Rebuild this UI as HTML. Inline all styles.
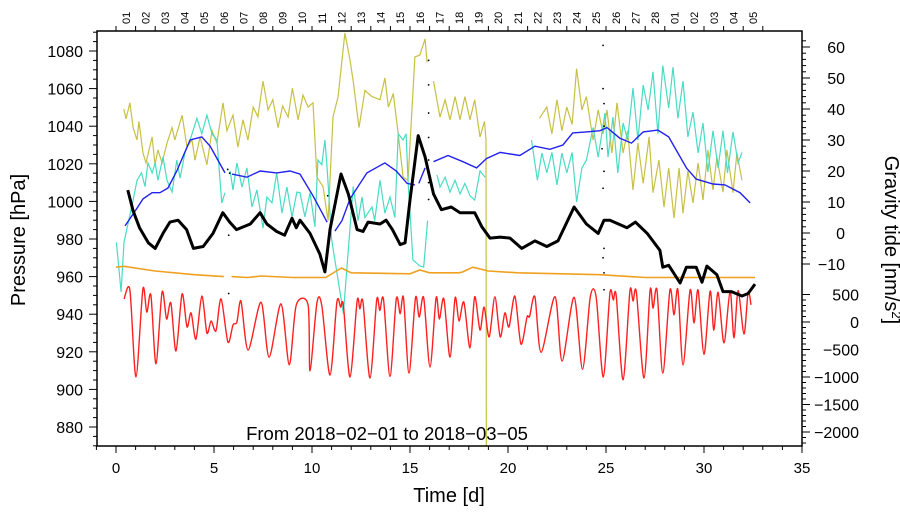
<!DOCTYPE html>
<html><head><meta charset="utf-8"><style>
html,body{margin:0;padding:0;background:#fff;}
svg{display:block;font-family:"Liberation Sans",sans-serif;}
</style></head><body>
<svg id="chart" width="900" height="519" viewBox="0 0 900 519" xmlns="http://www.w3.org/2000/svg">
<defs><clipPath id="plotclip"><rect x="97" y="31" width="705" height="415"/></clipPath></defs>
<g id="axes"></g>
<g id="series" clip-path="url(#plotclip)"></g>
<rect x="97" y="31" width="705" height="415" fill="none" stroke="#000" stroke-width="1.5"/>
<text x="25" y="240" font-size="20" text-anchor="middle" transform="rotate(-90 25 240)">Pressure [hPa]</text>
<text x="885" y="240" font-size="20" text-anchor="middle" transform="rotate(90 885 240)">Gravity tide [nm/s<tspan baseline-shift="super" font-size="13">2</tspan>]</text>
<text x="449" y="502" font-size="20" text-anchor="middle">Time [d]</text>
<text x="387" y="440" font-size="18.5" text-anchor="middle">From 2018−02−01 to 2018−03−05</text>
</svg>
<script>
const xTicks = [0,5,10,15,20,25,30,35];
const leftTicks = [880,900,920,940,960,980,1000,1020,1040,1060,1080];
const upperRightTicks = [-10,0,10,20,30,40,50,60];
const lowerRightTicks = [-2000,-1500,-1000,-500,0,500];
const dayLabels = ["01","02","03","04","05","06","07","08","09","10","11","12","13","14","15","16","17","18","19","20","21","22","23","24","25","26","27","28","01","02","03","04","05"];

const pressure = [[0.6,1006],[0.87,995],[1.2,986],[1.65,978],[2.0,975],[2.4,983],[2.75,989],[3.17,990],[3.6,985],[3.95,975],[4.45,976],[4.95,983],[5.45,994],[5.8,989],[6.15,985],[6.85,988],[7.35,994],[7.7,988],[8.2,984],[8.6,982],[8.98,991],[9.2,986],[9.39,990],[9.9,983],[10.4,972],[10.66,962.5],[10.92,985],[11.48,1014.6],[11.85,1004],[12.3,985],[12.6,984],[12.86,989],[13.47,988],[13.78,990],[14.1,985],[14.5,977],[14.75,978],[15.0,1000.7],[15.42,1035],[15.77,1023.6],[16.2,1004],[16.6,995.6],[17.1,997],[17.55,994],[18.3,994],[18.66,986.6],[19.08,980.5],[19.6,981],[20.1,980.5],[20.7,975],[21.37,979],[21.98,976],[22.55,979],[23.37,997],[24.0,988],[24.6,983],[24.9,990],[25.2,990],[26.07,986],[26.5,989],[27.1,983],[27.75,974],[27.9,965],[28.2,966],[28.78,956.6],[29.1,965],[29.6,965],[29.9,957],[30.15,965.6],[30.66,961],[30.97,952],[31.4,952],[31.94,949.7],[32.25,951],[32.6,956]];
const orange = [[0,965],[0.4,965.5],[2,963],[4,961],[5.5,960],null,[5.9,960],[6.7,959.5],[7.4,960.3],[9,959.5],[10.7,959.5],[11.5,964.6],[12,962],[15,961.5],[15.5,963.5],[16,962],[17.5,962],[17.7,962.5],[18.2,965],[19,963],[20.5,962],[24.7,961],[27,959.5],[32.6,959.5]];
const tide = [[0.41,418],[0.71,580],[1.02,-1000],[1.37,600],[1.57,180],[1.78,490],[2.04,-760],[2.35,545],[2.58,55],[2.8,345],[3.06,-527],[3.37,510],[3.62,-90],[3.83,165],[4.08,-310],[4.38,470],[4.64,-200],[4.85,20],[5.1,-160],[5.36,420],[5.71,-365],[5.97,-55],[6.17,0],[6.38,380],[6.74,-510],[7.4,360],[7.81,-640],[8.42,330],[8.84,-780],[9.2,310],[9.8,310],[9.9,-890],[10.25,345],[10.5,300],[10.92,-965],[11.27,365],[11.46,270],[11.6,300],[11.94,-1000],[12.3,380],[12.44,240],[12.6,360],[12.96,-1020],[13.3,400],[13.46,210],[13.65,410],[13.98,-990],[14.3,420],[14.5,150],[14.67,440],[14.95,-930],[15.28,440],[15.47,90],[15.7,440],[16.02,-820],[16.33,440],[16.5,55],[16.73,420],[17.04,-640],[17.3,440],[17.5,20],[17.75,360],[18.06,-470],[18.3,460],[18.57,-145],[18.78,270],[19.04,-270],[19.33,460],[19.6,-270],[19.84,165],[20.05,-90],[20.35,470],[20.66,-400],[20.97,90],[21.1,100],[21.37,460],[21.69,-550],[22.4,460],[22.76,-710],[23.37,450],[23.8,-860],[24.2,460],[24.5,450],[24.86,-1000],[25.2,520],[25.37,400],[25.52,480],[25.87,-1050],[26.22,560],[26.38,380],[26.55,540],[26.94,-1020],[27.25,580],[27.4,250],[27.6,580],[27.9,-930],[28.26,580],[28.47,130],[28.67,590],[28.93,-780],[29.29,580],[29.49,-20],[29.7,580],[30.0,-590],[30.31,560],[30.5,-150],[30.72,540],[31.02,-380],[31.33,560],[31.53,-290],[31.74,570],[32.04,-220],[32.25,540],[32.4,310]];
const blue = [[0.46,2.3],[1.07,8],[1.38,11],[1.84,13],[2.24,13],[2.65,14.5],[3.1,20],[3.78,30],[4.38,31],[4.8,28],[5.2,23.5],[5.56,19.4],null,[5.92,19],[6.68,18],[7.35,20],[8.2,19.4],[8.88,20],[9.39,19],[10.05,12],[10.77,3.5],null,[11.17,0.6],[11.53,4],[11.94,11],[12.8,19.4],[13.72,22.6],[14.3,20],[14.85,16],[15.25,15.5],null,[15.45,16],[15.77,21],null,[16.2,23],[16.94,25],[17.7,23],[18.4,21],[18.9,24],[19.6,26],[20.6,25],[21.37,28],[22.14,27],[22.8,28.4],[23.3,32.3],[24.0,32.6],[24.7,33],[25.05,34],[25.7,30.6],[26.3,29],[26.9,32.6],[27.65,33.2],[28.2,31],[29.1,21],[29.6,17.4],[30.46,15.8],[31.07,15.5],[31.84,13],[32.35,9.7]];
const yellow = [[0.4,40],[0.51,36.8],[0.71,42],[0.87,34],[1.07,30],[1.17,36],[1.38,25.8],[1.53,22.6],[1.84,31],[1.99,22],[2.14,26.8],[2.35,22.6],[2.6,29],[2.86,34],[3.0,30],[3.37,38],[3.62,27.7],[3.88,30],[4.03,23.5],[4.29,31],[4.64,22],[4.9,33],[5.15,29],[5.46,42],[5.66,33],[5.97,38],[6.22,27.7],[6.48,36.5],[6.73,30],[7.0,40.6],[7.24,37.5],[7.5,49],[7.76,39.7],[8.0,43],[8.27,34],[8.5,41],[8.78,37.4],[9.0,46.7],[9.29,36.5],[9.54,44.5],[9.8,40.6],[10.05,42],[10.25,18],[10.56,15],[10.82,4],[11.07,37.4],[11.33,44],[11.68,64.5],[11.94,55.8],[12.1,49],[12.4,34],[12.7,46],[13.06,44],[13.47,43],[13.72,50],[13.9,40.6],[14.15,45],[14.4,32],[14.65,18],[14.9,17],[15.25,56.8],[15.5,57.4],[15.77,62.6],[15.87,55],null,[16.2,49],[16.53,37.4],[16.79,43],[17.04,36.5],[17.3,44],[17.55,36.5],[17.8,44],[18.06,36.5],[18.3,43],[18.57,31],[18.8,36],[18.88,30],[18.9,-80],null,[21.6,37],[21.98,40.6],[22.24,32],[22.5,43],[22.75,33],[23.0,40.6],[23.27,35],[23.5,53],[23.77,39.7],[24.0,44],[24.34,30],[24.6,39.7],[24.85,32],[25.05,39.7],[25.3,25.8],[25.56,42],[25.87,25.8],[26.1,33],[26.38,13.9],[26.63,29],[26.9,16],[27.2,31],[27.4,13],[27.7,23.5],[27.96,8.4],[28.2,21],[28.47,4.8],[28.73,21],[28.93,6.4],[29.18,20],[29.44,9.7],[29.7,22.6],[29.95,10.6],[30.2,26.8],[30.46,13.9],[30.66,24.5],[30.97,13.2],[31.17,26.8],[31.48,13],[31.68,25.8],[31.94,17]];
const turquoise = [[0.02,-3],[0.26,-19],[0.41,-3],[0.87,10.6],[1.07,17],[1.3,19.4],[1.48,15],[1.63,22.6],[1.84,19.4],[2.0,22.6],[2.14,17],[2.4,24.5],[2.6,17],[2.86,13.2],[3.1,23.5],[3.27,17.7],[3.52,26],[3.78,30],[4.13,37],[4.38,32],[4.64,38],[4.9,32],[5.15,30],[5.4,9.7],[5.56,13],null,[5.82,20],[5.97,13.9],[6.17,22.6],[6.43,14.8],[6.68,21],[6.94,8.4],[7.19,13.9],[7.5,1.6],[7.7,11.6],[7.96,9.7],[8.2,19.4],[8.47,6.4],[8.72,14.8],[8.98,5.2],[9.23,13.2],[9.39,13],[9.64,5.2],[9.9,13],[10.15,2],[10.3,23.5],[10.5,22],[10.66,30],[10.77,21],[11.0,-2],[11.6,-26],[12.1,15],[12.35,4],[12.55,11.6],[12.7,5],[13.06,8.4],[13.2,4],[13.47,17],[13.72,6.4],[13.98,11.6],[14.23,5],[14.4,32],[14.65,30],[14.8,32],[14.9,17],[15.15,-8.7],[15.5,-10.6],[15.7,-11],[15.9,4],null,[16.38,18.7],[16.53,14.8],[16.79,18],[17.04,13.2],[17.3,17],[17.55,12.6],[17.8,16],[18.06,12],[18.3,10.6],[18.57,20],[18.83,18],null,[21.2,30],[21.5,17],[21.73,25.8],[21.98,19.4],[22.24,26],[22.5,15.5],[22.75,25.8],[23.0,19.4],[23.27,26],[23.5,10],[23.77,21],[24.0,23.5],[24.34,34],[24.6,24.5],[24.95,38.7],[25.1,24.5],[25.35,37.4],[25.6,19.4],[25.87,35.5],[26.1,30],[26.38,46.8],[26.63,30],[26.9,47.7],[27.15,39.7],[27.4,52],[27.65,32],[27.9,54],[28.2,40.3],[28.42,53.5],[28.67,37],[28.93,49],[29.18,31],[29.44,39],[29.7,25.8],[29.95,35.5],[30.2,19.7],[30.46,33],[30.72,21],[30.97,33],[31.2,19.4],[31.48,32.6],[31.74,22.6],[31.94,26]];
const outlierDots = [[15.95,1075],[15.95,1062],[15.95,1047],[15.95,1034],[15.95,1022],[15.95,1010],[15.95,1001],[24.85,1083],[24.85,1060],[24.9,1052],[24.9,1040],[24.8,1028],[24.9,1016],[24.85,1007],[24.9,975],[24.85,970],[24.9,962],[24.9,953],[5.7,1017],[5.8,1015],[5.75,982],[5.75,951],[10.8,1003]];

const NS="http://www.w3.org/2000/svg";
const X=t=>116+t*19.6, YP=h=>51+(1080-h)*1.88, YU=v=>233-v*3.1, YL=v=>322-v*0.055;
const axes=document.getElementById('axes'), series=document.getElementById('series');
function mk(tag,attrs,parent){const e=document.createElementNS(NS,tag);for(const k in attrs)e.setAttribute(k,attrs[k]);parent.appendChild(e);return e;}
function line(x1,y1,x2,y2,w){return mk('line',{x1,y1,x2,y2,stroke:'#000','stroke-width':w||1},axes);}
function txt(x,y,s,anchor,size,parent){const e=mk('text',{x,y,'font-size':size||15,'text-anchor':anchor||'middle'},parent||axes);e.textContent=s;return e;}

for(let t=-1;t<=35;t++){const l=line(X(t),446,X(t),t%5===0?453:450);}
xTicks.forEach(t=>{const e=txt(X(t),473,String(t));});
for(let k=0;k<=33;k++){const l=line(X(k),31,X(k),26);}
dayLabels.forEach((d,i)=>{const x=X(i+0.5)+4,y=24;const e=txt(x,y,d,'start',11);e.setAttribute('transform',`rotate(-90 ${x} ${y})`);});
for(let h=870;h<=1090;h+=5){const l=line(97,YP(h),h%20===0?89:93,YP(h));}
leftTicks.forEach(h=>{const e=txt(83,YP(h)+6,String(h),'end',16);});
for(let v=-10;v<=62;v+=2){const l=line(802,YU(v),v%10===0?810:806,YU(v));}
upperRightTicks.forEach(v=>{const e=txt(845,YU(v)+6,String(v).replace('-','−'),'end',16);});
for(let v=-2200;v<=500;v+=100){const l=line(802,YL(v),v%500===0?810:806,YL(v));}
lowerRightTicks.forEach(v=>{const e=txt(859,YL(v)+6,String(v).replace('-','−'),'end',16);});

function pathFrom(data,Y){let d='',pen=false;data.forEach(p=>{if(!p){pen=false;return;}d+=(pen?'L':'M')+X(p[0]).toFixed(1)+' '+Y(p[1]).toFixed(1);pen=true;});return d;}
function smoothFrom(data,Y){const P=data.map(p=>[X(p[0]),Y(p[1])]);let d='M'+P[0][0]+' '+P[0][1];for(let i=0;i<P.length-1;i++){const p0=P[i-1]||P[i],p1=P[i],p2=P[i+1],p3=P[i+2]||p2;const k=7;const c1=[p1[0]+(p2[0]-p0[0])/k,p1[1]+(p2[1]-p0[1])/k],c2=[p2[0]-(p3[0]-p1[0])/k,p2[1]-(p3[1]-p1[1])/k];d+=`C${c1[0].toFixed(1)} ${c1[1].toFixed(1)} ${c2[0].toFixed(1)} ${c2[1].toFixed(1)} ${p2[0].toFixed(1)} ${p2[1].toFixed(1)}`;}return d;}

const yl=mk('path',{d:pathFrom(yellow,YU),fill:'none',stroke:'#c8c044','stroke-width':1.2},series);


const tq=mk('path',{d:pathFrom(turquoise,YU),fill:'none',stroke:'#48dcc4','stroke-width':1.2},series);


const bl=mk('path',{d:pathFrom(blue,YU),fill:'none',stroke:'#2222ee','stroke-width':1.4},series);


const og=mk('path',{d:pathFrom(orange,YP),fill:'none',stroke:'#f0a020','stroke-width':1.6},series);


const rd=mk('path',{d:smoothFrom(tide,YL),fill:'none',stroke:'#ff2020','stroke-width':1.4},series);


const bk=mk('path',{d:pathFrom(pressure,YP),fill:'none',stroke:'#000','stroke-width':3,'stroke-linejoin':'round'},series);


outlierDots.forEach(p=>{const c=mk('circle',{cx:X(p[0]),cy:YP(p[1]),r:0.9,fill:'#000'},series);

});
</script>
</body></html>
